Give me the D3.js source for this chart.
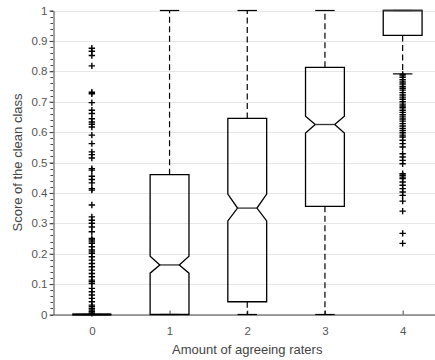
<!DOCTYPE html>
<html>
<head>
<meta charset="utf-8">
<script src="https://cdn.jsdelivr.net/npm/d3@7"></script>
<style>
  html, body { margin: 0; padding: 0; background: #fff; }
  svg { display: block; }
  text { font-family: "Liberation Sans", Arial, Helvetica, sans-serif; }
</style>
</head>
<body>
<div id="chart"></div>
<script>
// Groups: number of raters agreeing with the label
const categories = [0, 1, 2, 3, 4];

// Box statistics per group
const q1Values      = [0,     0,     0.042, 0.356, 0.918];
const medianValues  = [0,     0.163, 0.350, 0.625, 1.0];
const q3Values      = [0,     0.460, 0.645, 0.813, 1.0];
const notchLow      = [0,     0.136, 0.308, 0.597, 1.0];
const notchHigh     = [0,     0.192, 0.396, 0.652, 1.0];
const whiskerLow    = [0,     0,     0,     0,     0.7915];
const whiskerHigh   = [0,     1,     1,     1,     1];

// Outlying scores
const outliers0 = [
  0.876, 0.866, 0.852, 0.818, 0.731, 0.726, 0.697, 0.672, 0.661, 0.644,
  0.633, 0.626, 0.617, 0.590, 0.562, 0.535, 0.526, 0.515, 0.480, 0.475,
  0.455, 0.444, 0.433, 0.414, 0.409, 0.360, 0.321, 0.310, 0.300, 0.288,
  0.272, 0.250, 0.245, 0.239, 0.234, 0.223, 0.212, 0.206, 0.201, 0.190,
  0.179, 0.168, 0.157, 0.146, 0.135, 0.124, 0.113, 0.108, 0.102, 0.086,
  0.075, 0.064, 0.053, 0.042, 0.031, 0.026, 0.020, 0.015, 0.009, 0.004
];
const outliers4 = [
  0.790, 0.785, 0.780, 0.772, 0.765, 0.758, 0.750, 0.744, 0.738, 0.730,
  0.722, 0.715, 0.708, 0.700, 0.692, 0.686, 0.680, 0.672, 0.665, 0.657,
  0.650, 0.643, 0.636, 0.628, 0.620, 0.612, 0.605, 0.598, 0.590, 0.584,
  0.573, 0.562, 0.551, 0.529, 0.518, 0.507, 0.496, 0.463, 0.458, 0.452,
  0.447, 0.436, 0.425, 0.414, 0.403, 0.392, 0.373, 0.340, 0.267, 0.234
];
const outlierSets = [outliers0, [], [], [], outliers4];

const yTicks = [0, 0.1, 0.2, 0.3, 0.4, 0.5, 0.6, 0.7, 0.8, 0.9, 1];
const yTickLabels = ["0", "0.1", "0.2", "0.3", "0.4", "0.5", "0.6", "0.7", "0.8", "0.9", "1"];
const xLabel = "Amount of agreeing raters";
const yLabel = "Score of the clean class";

const width = 435, height = 360;
const plotLeft = 53, plotTop = 10.5, plotBottom = 314.5;

const svg = d3.select("#chart").append("svg")
  .attr("width", width).attr("height", height);

const x = d3.scaleLinear().domain([-0.5, 4.5]).range([plotLeft, 441.5]);
const y = d3.scaleLinear().domain([0, 1]).range([plotBottom, plotTop]);

// Horizontal grid
svg.append("g").selectAll("line").data(yTicks).join("line")
  .attr("x1", plotLeft).attr("x2", width)
  .attr("y1", d => Math.round(y(d)) + 0.5).attr("y2", d => Math.round(y(d)) + 0.5)
  .attr("stroke", "#e6e6e6").attr("stroke-width", 1);

// Y axis with minor ticks
const minorTicks = d3.range(0, 51).map(i => i / 50);
svg.append("g").selectAll("line").data(minorTicks).join("line")
  .attr("x1", plotLeft - 2.5).attr("x2", plotLeft)
  .attr("y1", d => Math.round(y(d)) + 0.5).attr("y2", d => Math.round(y(d)) + 0.5)
  .attr("stroke", "#444");

const yAxis = svg.append("g")
  .attr("transform", `translate(${plotLeft + 0.5},0)`)
  .call(d3.axisLeft(y).tickValues(yTicks)
    .tickFormat((d, i) => yTickLabels[i]).tickSize(4).tickPadding(2).tickSizeOuter(0));
yAxis.select(".domain").attr("stroke", "#444");
yAxis.selectAll(".tick line").attr("stroke", "#444");
yAxis.selectAll(".tick text").attr("fill", "#555").style("font-size", "11.5px")
  .style("font-family", "'Liberation Sans', Arial, sans-serif");

// X axis
const xAxis = svg.append("g")
  .attr("transform", `translate(0,${plotBottom})`)
  .call(d3.axisBottom(x).tickValues(categories).tickFormat(d3.format("d"))
    .tickSize(-4).tickPadding(12).tickSizeOuter(0));
xAxis.select(".domain").attr("stroke", "#444");
xAxis.selectAll(".tick line").attr("stroke", "#444");
xAxis.selectAll(".tick text").attr("fill", "#555").style("font-size", "11.5px")
  .style("font-family", "'Liberation Sans', Arial, sans-serif");

// Axis titles
svg.append("text")
  .attr("x", x(2)).attr("y", 354)
  .attr("text-anchor", "middle").attr("fill", "#444")
  .style("font-size", "13px")
  .text(xLabel);
svg.append("text")
  .attr("transform", `translate(22,${y(0.5)}) rotate(-90)`)
  .attr("text-anchor", "middle").attr("fill", "#444")
  .style("font-size", "13px")
  .text(yLabel);

// Boxes
const boxHalf = 0.25, notchHalf = 0.125, capHalf = 0.125;
const plot = svg.append("g");

categories.forEach((c, i) => {
  const g = plot.append("g");
  // whiskers
  if (whiskerHigh[i] > q3Values[i]) {
    g.append("line").attr("x1", x(c)).attr("x2", x(c))
      .attr("y1", y(q3Values[i])).attr("y2", y(whiskerHigh[i]))
      .attr("stroke", "#000").attr("stroke-width", 1.2).attr("stroke-dasharray", "6,3.5");
  }
  if (whiskerLow[i] < q1Values[i]) {
    g.append("line").attr("x1", x(c)).attr("x2", x(c))
      .attr("y1", y(q1Values[i])).attr("y2", y(whiskerLow[i]))
      .attr("stroke", "#000").attr("stroke-width", 1.2).attr("stroke-dasharray", "6,3.5");
  }
  [whiskerLow[i], whiskerHigh[i]].forEach(v => {
    g.append("line").attr("x1", x(c - capHalf)).attr("x2", x(c + capHalf))
      .attr("y1", y(v)).attr("y2", y(v)).attr("stroke", "#000").attr("stroke-width", 1.2);
  });

  // box outline, notched where the notch fits inside the box
  const hasNotch = notchLow[i] > q1Values[i] && notchHigh[i] < q3Values[i];
  let pts;
  if (hasNotch) {
    pts = [
      [c - boxHalf, q1Values[i]], [c - boxHalf, notchLow[i]],
      [c - notchHalf, medianValues[i]], [c - boxHalf, notchHigh[i]],
      [c - boxHalf, q3Values[i]], [c + boxHalf, q3Values[i]],
      [c + boxHalf, notchHigh[i]], [c + notchHalf, medianValues[i]],
      [c + boxHalf, notchLow[i]], [c + boxHalf, q1Values[i]]
    ];
  } else {
    pts = [
      [c - boxHalf, q1Values[i]], [c - boxHalf, q3Values[i]],
      [c + boxHalf, q3Values[i]], [c + boxHalf, q1Values[i]]
    ];
  }
  g.append("path")
    .attr("d", d3.line().x(p => x(p[0])).y(p => y(p[1]))(pts) + "Z")
    .attr("fill", "none").attr("stroke", "#000").attr("stroke-width", 1.3);

  // median
  const mh = hasNotch ? notchHalf : boxHalf;
  g.append("line").attr("x1", x(c - mh)).attr("x2", x(c + mh))
    .attr("y1", y(medianValues[i])).attr("y2", y(medianValues[i]))
    .attr("stroke", "#333").attr("stroke-width", 1.3);

  // outliers as plus markers
  g.selectAll("path.out").data(outlierSets[i]).join("path")
    .attr("class", "out")
    .attr("d", d => {
      const px = x(c), py = y(d), s = 3.2;
      return `M${px - s},${py}H${px + s}M${px},${py - s}V${py + s}`;
    })
    .attr("stroke", "#000").attr("stroke-width", 1.4).attr("fill", "none");
});

// thick baseline of the collapsed first box
plot.append("line").attr("x1", x(-boxHalf)).attr("x2", x(boxHalf))
  .attr("y1", y(0)).attr("y2", y(0)).attr("stroke", "#000").attr("stroke-width", 2);
</script>
</body>
</html>
